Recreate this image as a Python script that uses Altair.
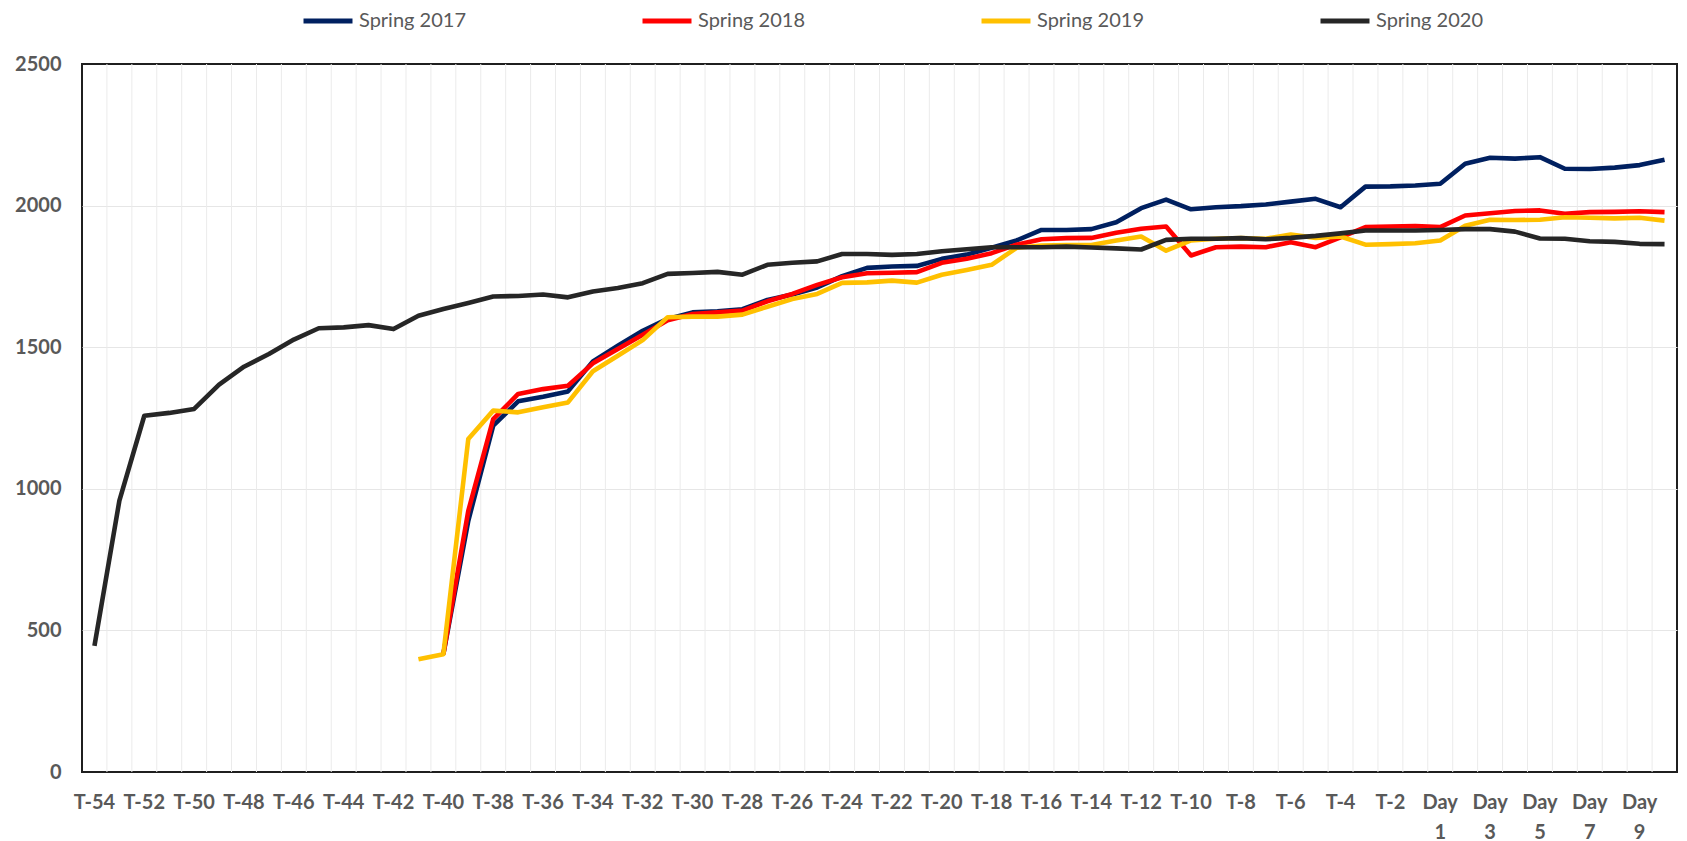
import altair as alt
import pandas as pd

categories = [
    "T-54", "T-53", "T-52", "T-51", "T-50", "T-49", "T-48", "T-47", "T-46", "T-45",
    "T-44", "T-43", "T-42", "T-41", "T-40", "T-39", "T-38", "T-37", "T-36", "T-35",
    "T-34", "T-33", "T-32", "T-31", "T-30", "T-29", "T-28", "T-27", "T-26", "T-25",
    "T-24", "T-23", "T-22", "T-21", "T-20", "T-19", "T-18", "T-17", "T-16", "T-15",
    "T-14", "T-13", "T-12", "T-11", "T-10", "T-9", "T-8", "T-7", "T-6", "T-5",
    "T-4", "T-3", "T-2", "T-1", "Day 1", "Day 2", "Day 3", "Day 4", "Day 5", "Day 6",
    "Day 7", "Day 8", "Day 9", "Day 10",
]

series_names = ["Spring 2017", "Spring 2018", "Spring 2019", "Spring 2020"]
series_colors = ["#002060", "#FF0000", "#FFC000", "#262626"]

spring_2017 = [
    None, None, None, None, None, None, None, None, None, None,
    None, None, None, None, 416, 887, 1223, 1309, 1325, 1344,
    1450, 1505, 1558, 1600, 1623, 1627, 1634, 1667, 1686, 1711,
    1751, 1780, 1785, 1787, 1812, 1827, 1851, 1877, 1914, 1914,
    1917, 1941, 1991, 2021, 1987, 1994, 1998, 2004, 2014, 2024,
    1994, 2067, 2068, 2071, 2077, 2148, 2169, 2166, 2171, 2130,
    2129, 2134, 2143, 2162,
]

spring_2018 = [
    None, None, None, None, None, None, None, None, None, None,
    None, None, None, None, 416, 922, 1246, 1335, 1352, 1364,
    1443, 1494, 1544, 1595, 1617, 1623, 1629, 1662, 1688, 1720,
    1747, 1761, 1763, 1765, 1798, 1812, 1832, 1862, 1881, 1885,
    1886, 1904, 1918, 1926, 1824, 1853, 1855, 1853, 1871, 1853,
    1888, 1924, 1926, 1928, 1924, 1965, 1973, 1981, 1983, 1971,
    1977, 1978, 1980, 1977,
]

spring_2019 = [
    None, None, None, None, None, None, None, None, None, None,
    None, None, None, 398, 416, 1176, 1276, 1270, 1288, 1305,
    1415, 1470, 1525, 1606, 1608, 1608, 1615, 1643, 1670, 1688,
    1727, 1729, 1735, 1728, 1756, 1773, 1791, 1851, 1859, 1861,
    1861, 1877, 1891, 1841, 1877, 1883, 1885, 1883, 1898, 1886,
    1891, 1862, 1864, 1867, 1877, 1929, 1950, 1949, 1950, 1959,
    1957, 1955, 1957, 1947,
]

spring_2020 = [
    445, 958, 1258, 1268, 1282, 1368, 1431, 1476, 1527, 1567,
    1570, 1578, 1564, 1611, 1635, 1656, 1679, 1681, 1686, 1676,
    1697, 1709, 1726, 1759, 1762, 1766, 1756, 1791, 1798, 1803,
    1829, 1829, 1826, 1829, 1839, 1846, 1853, 1853, 1853, 1855,
    1852, 1849, 1845, 1879, 1883, 1883, 1885, 1881, 1886, 1893,
    1902, 1912, 1912, 1912, 1914, 1917, 1917, 1908, 1884, 1883,
    1874, 1872, 1865, 1864,
]

y_ticks = [0, 500, 1000, 1500, 2000, 2500]

all_series = [spring_2017, spring_2018, spring_2019, spring_2020]
rows = []
for name, vals in zip(series_names, all_series):
    for order, (cat, v) in enumerate(zip(categories, vals)):
        if v is not None:
            rows.append({"cat": cat, "value": v, "series": name, "order": order})
df = pd.DataFrame(rows)
grid_df = pd.DataFrame({"cat": categories[1:]})

FONT = "Lato"
GREY = "#595959"

x_scale = alt.Scale(type="band", domain=categories, paddingInner=0, paddingOuter=0)
label_expr = (
    "indexof(datum.value, 'Day') == 0 ? "
    "(toNumber(substring(datum.value, 4)) % 2 == 1 ? ['Day', substring(datum.value, 4)] : '') : "
    "(toNumber(substring(datum.value, 2)) % 2 == 0 ? datum.value : '')"
)
x_axis = alt.Axis(
    title=None, grid=False, ticks=False, domain=False,
    labelAngle=0, labelAlign="center", labelBaseline="top",
    labelFont=FONT, labelFontWeight="bold", labelFontSize=20, labelColor=GREY,
    labelPadding=20, labelLineHeight=30, labelOverlap=False, labelBound=False,
    labelExpr=label_expr,
)

grid = alt.Chart(grid_df).mark_rule(color="#ebebeb", strokeWidth=1).encode(
    x=alt.X("cat:N", scale=x_scale, bandPosition=0, axis=x_axis, sort=categories),
)

lines = alt.Chart(df).mark_line(strokeWidth=4.6, strokeJoin="round").encode(
    x=alt.X("cat:N", scale=x_scale, bandPosition=0.5, axis=x_axis, sort=categories),
    y=alt.Y(
        "value:Q",
        scale=alt.Scale(domain=[0, 2500], nice=False),
        axis=alt.Axis(
            title=None, values=y_ticks, ticks=False, domain=False, format="d",
            grid=True,
            gridColor={"condition": {"test": "datum.value == 2500 || datum.value == 0", "value": "transparent"}, "value": "#e6e6e6"},
            gridWidth=1.2,
            labelFont=FONT, labelFontWeight="bold", labelFontSize=20, labelColor=GREY,
            labelPadding=21,
        ),
    ),
    color=alt.Color(
        "series:N",
        scale=alt.Scale(domain=series_names, range=series_colors),
        legend=alt.Legend(
            title=None, orient="none", legendX=219, legendY=-70,
            direction="horizontal", columns=4,
            symbolType="stroke", symbolStrokeWidth=5, symbolSize=2400,
            labelFont=FONT, labelFontSize=20, labelColor=GREY, labelOffset=4,
            columnPadding=166,
        ),
    ),
    order=alt.Order("order:Q"),
    detail="series:N",
)

chart = (
    alt.layer(grid, lines)
    .properties(
        width=1595, height=708,
        autosize=alt.AutoSizeParams(type="none"),
        padding={"left": 74, "top": 56, "right": 2, "bottom": 69},
        background="white",
    )
    .configure_view(stroke="#1f1f1f", strokeWidth=2)
)

chart.save("out.html", embed_options={"renderer": "svg", "actions": False})
